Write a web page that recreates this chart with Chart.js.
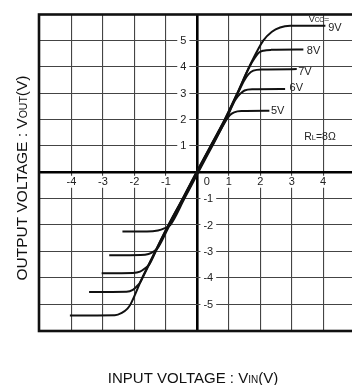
<!DOCTYPE html>
<html>
<head>
<meta charset="utf-8">
<script src="https://cdn.jsdelivr.net/npm/chart.js@4/dist/chart.umd.min.js"></script>
<style>
  html, body { margin: 0; padding: 0; background: #fff; }
  #wrap { width: 352px; height: 385px; }
</style>
</head>
<body>
<div id="wrap"><canvas id="c" width="352" height="385"></canvas></div>
<script>
// Tick values on the two centred axes
const xTicks = [-4, -3, -2, -1, 0, 1, 2, 3, 4];
const yTicks = [-5, -4, -3, -2, -1, 1, 2, 3, 4, 5];

// Supply voltages, one transfer curve each (RL = 8 ohm)
const supplyLabels = ['5V', '6V', '7V', '8V', '9V'];

// VIN / VOUT samples per supply voltage
const vin5  = [-2.38, -1.6, -1.25, -1.05, -0.86, -0.41, 0.03, 0.48, 0.93, 1.03, 1.17, 1.4, 2.29];
const vout5 = [-2.25, -2.25, -2.21, -2.13, -2.0, -1.0, 0, 1.0, 2.0, 2.16, 2.27, 2.32, 2.33];

const vin6  = [-2.8, -1.8, -1.55, -1.38, -1.24, -0.88, -0.43, 0.01, 0.46, 0.91, 1.21, 1.36, 1.5, 1.75, 2.79];
const vout6 = [-3.15, -3.14, -3.1, -3.0, -2.84, -2.0, -1.0, 0, 1.0, 2.0, 2.75, 2.97, 3.1, 3.15, 3.16];

const vin7  = [-3.04, -2.05, -1.82, -1.66, -1.53, -1.32, -0.9, -0.45, -0.01, 0.44, 0.89, 1.29, 1.5, 1.63, 1.78, 2.05, 3.16];
const vout7 = [-3.83, -3.82, -3.77, -3.64, -3.5, -3.0, -2.0, -1.0, 0, 1.0, 2.0, 3.0, 3.5, 3.72, 3.85, 3.9, 3.91];

const vin8  = [-3.44, -2.25, -2.05, -1.92, -1.82, -1.74, -1.33, -0.91, -0.46, -0.02, 0.43, 0.88, 1.28, 1.66, 1.84, 1.95, 2.1, 2.35, 3.37];
const vout8 = [-4.54, -4.53, -4.46, -4.32, -4.18, -4.0, -3.0, -2.0, -1.0, 0, 1.0, 2.0, 3.0, 4.0, 4.36, 4.53, 4.61, 4.64, 4.65];

const vin9  = [-4.05, -2.62, -2.4, -2.22, -2.12, -1.75, -1.34, -0.92, -0.47, -0.03, 0.42, 0.87, 1.27, 1.65, 2.1, 2.37, 2.63, 2.95, 4.07];
const vout9 = [-5.43, -5.42, -5.33, -5.17, -5.0, -4.0, -3.0, -2.0, -1.0, 0, 1.0, 2.0, 3.0, 4.0, 5.0, 5.33, 5.49, 5.55, 5.55];

const curves = [[vin5, vout5], [vin6, vout6], [vin7, vout7], [vin8, vout8], [vin9, vout9]];

const FONT = '"Liberation Sans", Arial, Helvetica, sans-serif';

// Draw a run of text pieces [text, size] centred on (0,0) in the current transform
function drawRuns(ctx, runs, capCentre) {
  let total = 0;
  runs.forEach(([t, s]) => { ctx.font = s + 'px ' + FONT; total += ctx.measureText(t).width; });
  let x = -total / 2;
  ctx.textAlign = 'left';
  ctx.textBaseline = 'alphabetic';
  runs.forEach(([t, s]) => {
    ctx.font = s + 'px ' + FONT;
    ctx.fillText(t, x, capCentre);
    x += ctx.measureText(t).width;
  });
}

const decorations = {
  id: 'decorations',
  beforeDatasetsDraw(chart) {
    const { ctx, scales: { x, y } } = chart;
    const x0 = x.getPixelForValue(0), y0 = y.getPixelForValue(0);
    ctx.save();
    ctx.font = '11px ' + FONT;
    ctx.textAlign = 'center';
    ctx.textBaseline = 'middle';
    const tickLabel = (t, cx, cy) => {
      const w = ctx.measureText(t).width;
      ctx.fillStyle = '#fff';
      ctx.fillRect(cx - w / 2 - 3, cy - 6, w + 6, 12);
      ctx.fillStyle = '#222';
      ctx.fillText(t, cx, cy + 0.5);
    };
    xTicks.forEach(v => tickLabel(String(v), v === 0 ? x0 + 9.5 : x.getPixelForValue(v), y0 + 9.5));
    yTicks.forEach(v => tickLabel(String(v), v > 0 ? x0 - 14 : x0 + 11, y.getPixelForValue(v)));
    ctx.restore();
  },
  afterDraw(chart) {
    const { ctx, chartArea: a, scales: { x, y } } = chart;
    ctx.save();
    // frame
    ctx.strokeStyle = '#111';
    ctx.lineWidth = 2.6;
    ctx.strokeRect(a.left - 1, a.top + 0.5, a.right - a.left + 20, a.bottom - a.top);

    // supply-voltage labels at the end of each curve
    ctx.fillStyle = '#222';
    ctx.textAlign = 'left';
    ctx.textBaseline = 'middle';
    ctx.font = '11px ' + FONT;
    const nudges = [[1.6, 0.5], [4.5, -1], [1.5, 3], [3.5, 1.5], [2.8, 2.2]];
    curves.forEach(([xs, ys], i) => {
      const n = xs.length - 1;
      const px = x.getPixelForValue(xs[n]) + nudges[i][0];
      const py = y.getPixelForValue(ys[n]) + nudges[i][1];
      ctx.fillText(supplyLabels[i], px, py);
    });

    // "Vcc=" heading above the 9V label
    ctx.translate(319, 22);
    drawRuns(ctx, [['V', 9], ['CC', 6.5], ['=', 9]], 0);
    ctx.setTransform(1, 0, 0, 1, 0, 0);

    // load resistance note
    ctx.translate(320, 140);
    drawRuns(ctx, [['R', 10.5], ['L', 7.5], ['=8Ω', 10.5]], 0);
    ctx.setTransform(1, 0, 0, 1, 0, 0);

    // axis titles
    ctx.fillStyle = '#111';
    ctx.translate(193, 382.5);
    drawRuns(ctx, [['INPUT VOLTAGE : V', 15], ['IN', 10], ['(V)', 15]], 0);
    ctx.setTransform(1, 0, 0, 1, 0, 0);

    ctx.translate(27, 178);
    ctx.rotate(-Math.PI / 2);
    drawRuns(ctx, [['OUTPUT VOLTAGE : V', 15.5], ['OUT', 10.5], ['(V)', 15.5]], 0);
    ctx.restore();
  }
};

const gridStyle = {
  color: c => (c.tick && c.tick.value === 0) ? '#000' : '#444',
  lineWidth: c => (c.tick && c.tick.value === 0) ? 2.6 : 1.1,
  drawTicks: false
};

new Chart(document.getElementById('c'), {
  type: 'scatter',
  data: {
    datasets: curves.map(([xs, ys], i) => ({
      label: supplyLabels[i],
      data: xs.map((v, k) => ({ x: v, y: ys[k] })),
      showLine: true,
      borderColor: '#111',
      borderWidth: 2,
      pointRadius: 0,
      cubicInterpolationMode: 'monotone',
      fill: false
    }))
  },
  options: {
    responsive: false,
    animation: false,
    devicePixelRatio: 1,
    layout: { padding: { left: 40, top: 14, right: 0, bottom: 54.5 } },
    plugins: { legend: { display: false }, tooltip: { enabled: false } },
    scales: {
      x: {
        type: 'linear', min: -5, max: 4.916,
        afterBuildTicks: s => { s.ticks = xTicks.map(v => ({ value: v })); },
        afterFit: s => { s.height = 0; },
        ticks: { display: false },
        grid: gridStyle,
        border: { display: false }
      },
      y: {
        type: 'linear', min: -6, max: 6,
        afterBuildTicks: s => { s.ticks = yTicks.concat([0]).map(v => ({ value: v })); },
        afterFit: s => { s.width = 0; },
        ticks: { display: false },
        grid: gridStyle,
        border: { display: false }
      }
    }
  },
  plugins: [decorations]
});
</script>
</body>
</html>
